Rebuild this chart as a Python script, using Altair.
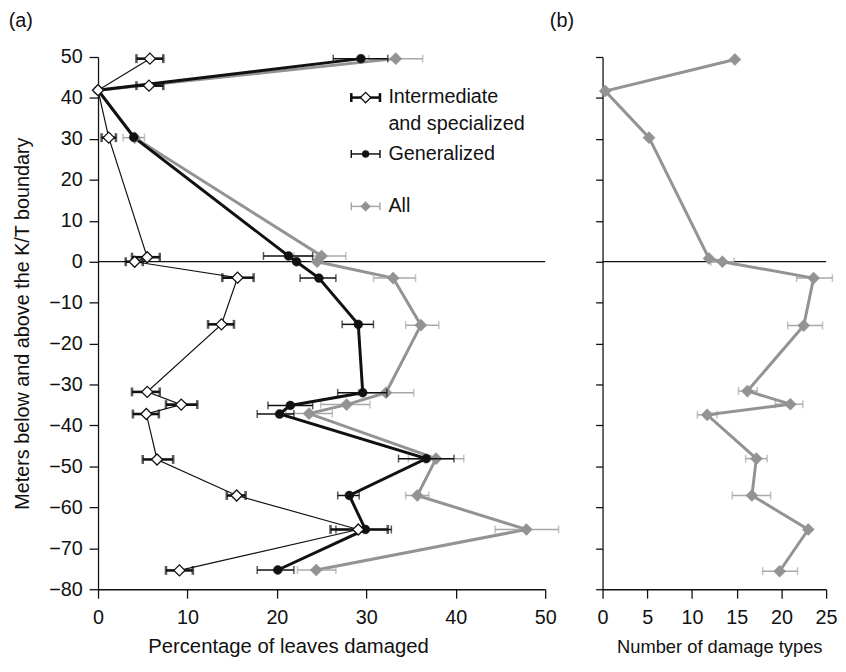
import altair as alt
import pandas as pd

# ---------------- Panel (a): percentage of leaves damaged ----------------
# Intermediate and specialized damage (open diamonds)
int_depth = [49.6, 43.0, 41.9, 30.3, 1.1, 0.0, -3.9, -15.3, -31.8, -34.9, -37.2, -48.3, -57.1, -65.4, -75.4]
int_pct = [5.8, 5.7, 0.0, 1.2, 5.5, 4.1, 15.6, 13.8, 5.5, 9.3, 5.4, 6.6, 15.5, 29.1, 9.1]
int_lo = [4.3, 4.3, None, 0.4, 3.8, 3.1, 13.9, 12.3, 3.8, 7.6, 3.9, 5.0, 14.4, 26.0, 7.6]
int_hi = [7.3, 7.3, None, 2.0, 6.9, 5.0, 17.4, 15.2, 6.9, 11.1, 6.8, 8.4, 16.5, 32.4, 10.6]
int_unconnected = [43.0]  # this sample is drawn as a marker only

# Generalized damage (black dots)
gen_depth = [49.6, 41.9, 30.4, 1.4, 0.0, -4.0, -15.3, -32.0, -35.1, -37.2, -48.1, -57.1, -65.4, -75.3]
gen_pct = [29.4, 0.0, 4.0, 21.3, 22.2, 24.7, 29.1, 29.6, 21.5, 20.3, 36.7, 28.1, 29.9, 20.1]
gen_lo = [26.3, None, None, 18.5, None, 22.6, 27.3, 26.8, 19.0, 17.8, 33.6, 26.8, 26.6, 17.8]
gen_hi = [32.4, None, None, 24.0, None, 26.6, 30.8, 32.3, 24.0, 21.9, 39.8, 29.2, 32.8, 21.9]

# All damage (gray diamonds)
all_depth = [49.6, 41.9, 30.3, 1.4, 0.0, -4.0, -15.5, -32.0, -34.9, -37.1, -48.1, -57.1, -65.4, -75.3]
all_pct = [33.3, 0.0, 4.1, 25.0, 24.5, 33.0, 36.1, 32.2, 27.8, 23.6, 37.8, 35.7, 47.9, 24.4]
all_lo = [30.3, None, 2.8, 21.9, None, 30.8, 34.4, 29.1, 24.9, 21.0, 34.7, 34.4, 44.4, 22.3]
all_hi = [36.3, None, 5.2, 27.7, None, 35.5, 38.1, 35.3, 30.4, 26.2, 40.9, 37.0, 51.5, 26.6]

# ---------------- Panel (b): number of damage types ----------------
b_depth = [49.4, 41.7, 30.3, 0.8, 0.0, -4.0, -15.6, -31.6, -34.8, -37.4, -48.1, -57.1, -65.4, -75.6]
b_num = [14.8, 0.3, 5.2, 11.9, 13.4, 23.6, 22.5, 16.2, 21.0, 11.7, 17.2, 16.7, 23.0, 19.8]
b_lo = [None, None, None, None, 12.1, 21.7, 20.7, 15.2, 19.3, 10.6, 16.0, 14.5, None, 17.9]
b_hi = [None, None, None, None, 14.7, 25.7, 24.6, 17.3, 22.4, 12.8, 18.4, 18.8, None, 21.8]

y_ticks = list(range(-80, 51, 10))
xa_ticks = [0, 10, 20, 30, 40, 50]
xb_ticks = [0, 5, 10, 15, 20, 25]

FONT = "Liberation Sans"
INK = "#111111"
GRAY = "#939393"
GRAY_ERR = "#a8a8a8"


def frame(depth, val, lo, hi):
    return pd.DataFrame({"i": list(range(len(depth))), "depth": depth, "v": val, "lo": lo, "hi": hi})


df_int = frame(int_depth, int_pct, int_lo, int_hi)
df_gen = frame(gen_depth, gen_pct, gen_lo, gen_hi)
df_all = frame(all_depth, all_pct, all_lo, all_hi)
df_b = frame(b_depth, b_num, b_lo, b_hi)

ys = alt.Scale(domain=[-80, 50], nice=False, zero=False)
xsa = alt.Scale(domain=[0, 50], nice=False)
xsb = alt.Scale(domain=[0, 25], nice=False)

ax_ya = alt.Axis(values=y_ticks, title="Meters below and above the K/T boundary",
                 titleX=-76, titleY=269, titleBaseline="middle", titleAngle=-90,
                 tickSize=9, labelPadding=7)
ax_yb = alt.Axis(values=y_ticks, labels=False, title=None, tickSize=7)
ax_xa = alt.Axis(values=xa_ticks, title="Percentage of leaves damaged",
                 titleX=192, titleY=58, titleBaseline="middle", titleFontSize=20.5,
                 tickSize=9, labelPadding=10)
ax_xb = alt.Axis(values=xb_ticks, title="Number of damage types",
                 titleX=118, titleY=58, titleBaseline="middle", titleFontSize=18.5,
                 tickSize=9, labelPadding=10)


def series(df, xs, xax, yax, line_color, line_w, err_color, err_w, cap, cap_w,
           pt_shape, pt_size, pt_fill, pt_stroke, pt_sw, line_df=None):
    X = lambda f: alt.X(f"{f}:Q", scale=xs, axis=xax)
    Y = alt.Y("depth:Q", scale=ys, axis=yax)
    ldf = df if line_df is None else line_df
    line = alt.Chart(ldf).mark_line(color=line_color, strokeWidth=line_w).encode(
        x=X("v"), y=Y, order=alt.Order("i:Q"))
    e = df.dropna(subset=["lo", "hi"])
    rule = alt.Chart(e).mark_rule(color=err_color, strokeWidth=err_w).encode(
        x=X("lo"), x2="hi:Q", y=Y)
    caps = e.melt(id_vars=["depth"], value_vars=["lo", "hi"], value_name="c")
    tick = alt.Chart(caps).mark_tick(orient="vertical", color=err_color, thickness=cap_w, size=cap).encode(
        x=X("c"), y=Y)
    pts = alt.Chart(df).mark_point(shape=pt_shape, size=pt_size, filled=True, fill=pt_fill,
                                   stroke=pt_stroke, strokeWidth=pt_sw, opacity=1).encode(
        x=X("v"), y=Y)
    return line, rule, tick, pts


a_all = series(df_all, xsa, ax_xa, ax_ya, GRAY, 3, GRAY_ERR, 1.5, 8, 1.5,
               "diamond", 150, GRAY, GRAY, 0.5)
a_gen = series(df_gen, xsa, ax_xa, ax_ya, INK, 3, INK, 1.5, 8, 1.5,
               "circle", 80, INK, INK, 0.5)
a_int = series(df_int, xsa, ax_xa, ax_ya, INK, 1.2, INK, 2.6, 9, 2.6,
               "diamond", 125, "white", INK, 1.3,
               line_df=df_int[~df_int["depth"].isin(int_unconnected)])

zero_a = alt.Chart(pd.DataFrame({"k": [0]})).mark_rule(color=INK, strokeWidth=1.3).encode(
    x=alt.datum(0, scale=xsa), x2=alt.datum(50), y=alt.datum(0, scale=ys))
zero_b = alt.Chart(pd.DataFrame({"k": [0]})).mark_rule(color=INK, strokeWidth=1.3).encode(
    x=alt.datum(0, scale=xsb), x2=alt.datum(25), y=alt.datum(0, scale=ys))

one = pd.DataFrame({"k": [0]})


def txt(s, x, y, align="left", baseline="middle"):
    return alt.Chart(one).mark_text(text=s, font=FONT, fontSize=20, color=INK, align=align,
                                    baseline=baseline).encode(x=alt.value(x), y=alt.value(y))


def hbar(x1, x2, y, color, w, cap):
    r = alt.Chart(one).mark_rule(color=color, strokeWidth=w).encode(
        x=alt.value(x1), x2=alt.value(x2), y=alt.value(y))
    c1 = alt.Chart(one).mark_rule(color=color, strokeWidth=w).encode(
        x=alt.value(x1), y=alt.value(y - cap / 2), y2=alt.value(y + cap / 2))
    c2 = alt.Chart(one).mark_rule(color=color, strokeWidth=w).encode(
        x=alt.value(x2), y=alt.value(y - cap / 2), y2=alt.value(y + cap / 2))
    return [r, c1, c2]


def sym(x, y, shape, size, fill, stroke, sw):
    return alt.Chart(one).mark_point(shape=shape, size=size, filled=True, fill=fill, stroke=stroke,
                                     strokeWidth=sw, opacity=1).encode(x=alt.value(x), y=alt.value(y))


legend = (
    hbar(256, 285, 41, INK, 2.6, 9) + [sym(270.5, 41, "diamond", 110, "white", INK, 1.3)]
    + hbar(256, 285, 98, INK, 1.5, 8) + [sym(270.5, 98, "circle", 50, INK, INK, 0.5)]
    + hbar(256, 285, 151, GRAY_ERR, 1.5, 8) + [sym(270.5, 151, "diamond", 100, GRAY, GRAY, 0.5)]
    + [txt("Intermediate", 293.5, 40), txt("and specialized", 293.5, 68),
       txt("Generalized", 293.5, 98), txt("All", 293.5, 151)]
)

labels = [txt("(a)", -90.3, -46, baseline="top"), txt("(b)", 456.7, -46, baseline="top")]

left = alt.layer(
    zero_a,
    a_all[0], a_all[1], a_all[2],
    a_gen[0],
    a_int[0],
    a_all[3],
    a_gen[1], a_gen[2], a_gen[3],
    a_int[1], a_int[2], a_int[3],
    *legend, *labels,
).properties(width=452, height=538)

b_ser = series(df_b, xsb, ax_xb, ax_yb, GRAY, 3, GRAY_ERR, 1.5, 8, 1.5,
               "diamond", 150, GRAY, GRAY, 0.5)
right = alt.layer(zero_b, b_ser[1], b_ser[2], b_ser[0], b_ser[3]).properties(width=226, height=538)

chart = alt.hconcat(left, right, spacing=20).properties(
    padding={"left": 0, "top": 0, "right": 0, "bottom": 0}, background="white"
).configure_view(stroke=None).configure_axis(
    grid=False, domainColor=INK, tickColor=INK, labelColor=INK, titleColor=INK,
    labelFont=FONT, titleFont=FONT, labelFontSize=20, titleFontSize=20, titleFontWeight="normal",
    domainWidth=1.3, tickWidth=1.3, labelFlush=False,
)

chart.save("out.html", embed_options={"renderer": "svg", "actions": False})
